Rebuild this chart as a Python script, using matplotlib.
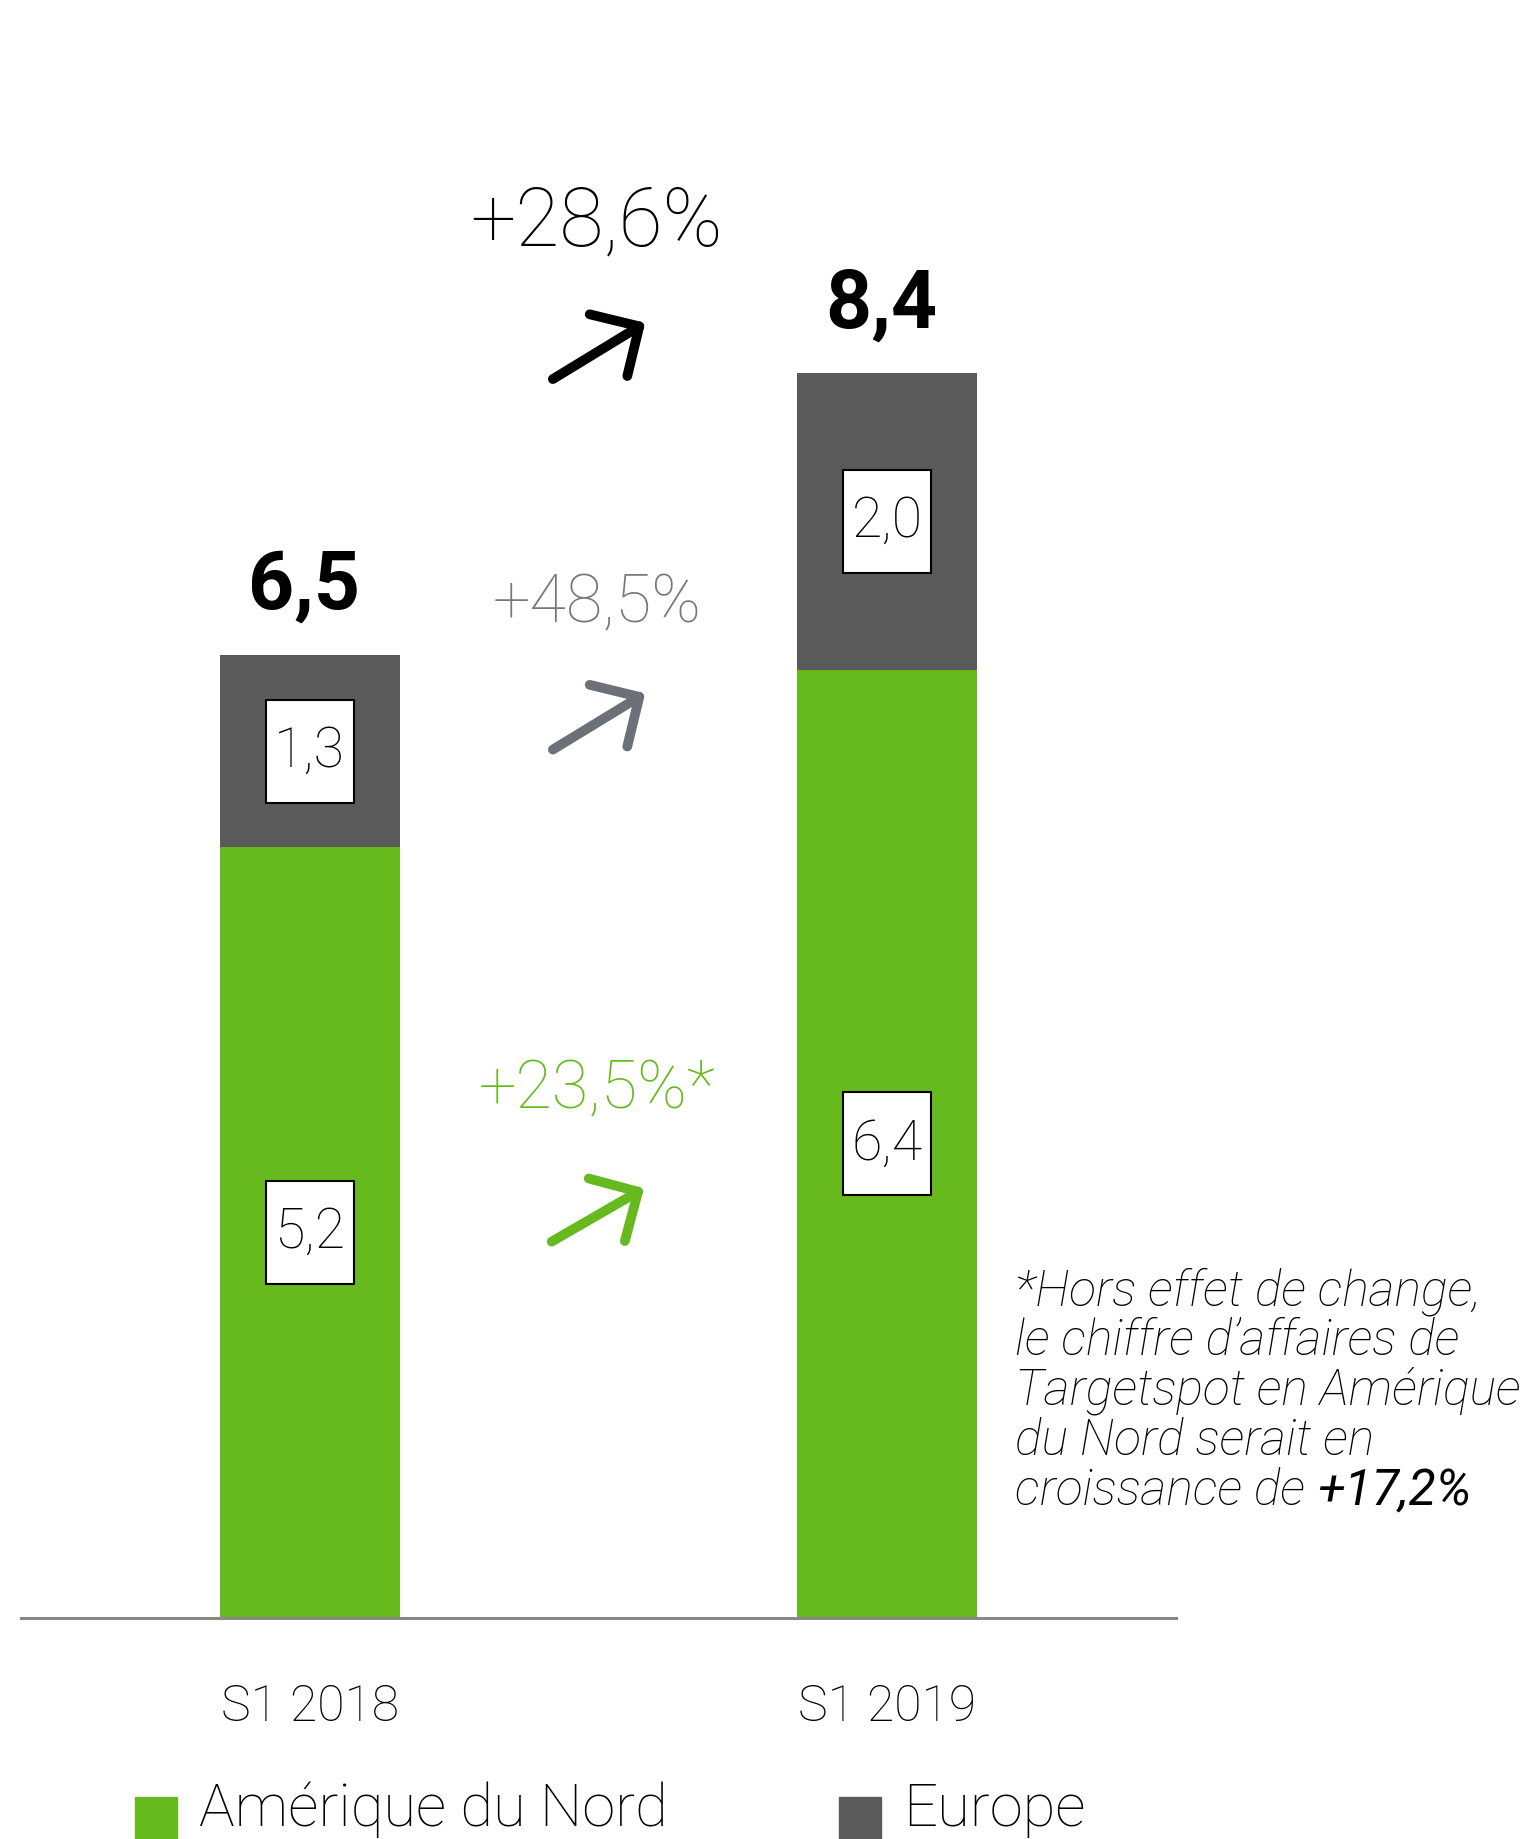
import matplotlib.pyplot as plt
from matplotlib.patches import Rectangle
from matplotlib.path import Path

# data
periods = ["S1 2018", "S1 2019"]
amerique = [5.2, 6.4]
europe = [1.3, 2.0]
totals = [6.5, 8.4]
growth_labels = ["+28,6%", "+48,5%", "+23,5%*"]
legend_labels = ["Amérique du Nord", "Europe"]
footnote_lines = ["*Hors effet de change,", "le chiffre d\u2019affaires de",
                  "Targetspot en Amérique", "du Nord serait en", "croissance de "]
footnote_value = "+17,2%"

GREEN = "#67BA1E"
DARK = "#5A5A5A"
ARROW_GREY = "#6B7176"
TEXT_GREY = "#777777"
FONT = "Roboto"


def frame_box(x0, y0, width, height, mutation_size):
    # taller than wide padding, like the framed value labels
    padx = 0.15 * mutation_size
    pady = 0.45 * mutation_size
    x1, y1 = x0 + width + padx, y0 + height + pady
    x0, y0 = x0 - padx, y0 - pady
    return Path([(x0, y0), (x1, y0), (x1, y1), (x0, y1), (x0, y0)], closed=True)


def fmt(v):
    return f"{v:.1f}".replace(".", ",")


fig = plt.figure(figsize=(15.31, 18.39), dpi=100)
ax = fig.add_axes([0, 0, 1, 1])
ax.set_xlim(-0.537, 2.116)
ax.set_ylim(-1.491, 10.918)
ax.axis('off')

x = [0, 1]
width = 0.312
ax.bar(x, amerique, width, color=GREEN, zorder=2)
ax.bar(x, europe, width, bottom=amerique, color=DARK, zorder=2)
ax.plot([-0.5, 1.5], [0, 0], color="#888888", lw=2.2, zorder=3)

# framed segment values
for i in range(2):
    for val, mid in [(amerique[i], amerique[i] / 2), (europe[i], amerique[i] + europe[i] / 2)]:
        ax.text(x[i], mid, fmt(val), ha='center', va='center', fontsize=40,
                family=FONT, fontweight='light', zorder=4,
                bbox=dict(boxstyle=frame_box, fc='white', ec='black', lw=1.5))

# totals above bars
for i in range(2):
    ax.text(x[i] - 0.01, totals[i] + 0.31, fmt(totals[i]), ha='center', va='baseline',
            fontsize=58, family=FONT, fontweight='bold', color='black')

# growth labels and arrows between the bars
growth_colors = ["black", TEXT_GREY, GREEN]
arrow_colors = ["black", ARROW_GREY, GREEN]
growth_y = [9.26, 6.72, 3.44]
growth_size = [58, 48, 48]
arrow_tails = [(0.421, 8.36), (0.421, 5.86), (0.419, 2.54)]
arrow_tips = [(0.581, 8.74), (0.581, 6.24), (0.579, 2.90)]
for lab, c, ac, gy, fs, tail, tip in zip(growth_labels, growth_colors, arrow_colors,
                                         growth_y, growth_size, arrow_tails, arrow_tips):
    ax.text(0.497, gy, lab, ha='center', va='baseline', fontsize=fs,
            family=FONT, fontweight='light', color=c)
    ax.annotate('', xy=tip, xytext=tail,
                arrowprops=dict(arrowstyle='->,head_length=2.6,head_width=2.6',
                                mutation_scale=10, lw=7, color=ac,
                                shrinkA=0, shrinkB=0, capstyle='round', joinstyle='round'))

# category labels
for i, p in enumerate(periods):
    ax.text(x[i], -0.695, p, ha='center', va='baseline', fontsize=36,
            family=FONT, fontweight='light', color='black')

# legend
leg_sq_x = [-0.303, 0.917]
leg_txt_x = [-0.192, 1.028]
for sx, tx, lab, c in zip(leg_sq_x, leg_txt_x, legend_labels, [GREEN, DARK]):
    ax.add_patch(Rectangle((sx, -1.55), 0.073, 0.342, color=c, clip_on=False))
    ax.text(tx, -1.404, lab, ha='left', va='baseline', fontsize=43,
            family=FONT, fontweight='light', color='black')

# footnote
fy = 2.112
for line in footnote_lines:
    t = ax.text(1.222, fy, line, ha='left', va='baseline', fontsize=36,
                family=FONT, fontweight='light', style='italic', color='black')
    fy -= 0.337
ax.annotate(footnote_value, xy=(1, 0), xycoords=t, ha='left', va='bottom',
            fontsize=36, family=FONT, style='italic', color='black')

fig.savefig("out.png", dpi=100)
